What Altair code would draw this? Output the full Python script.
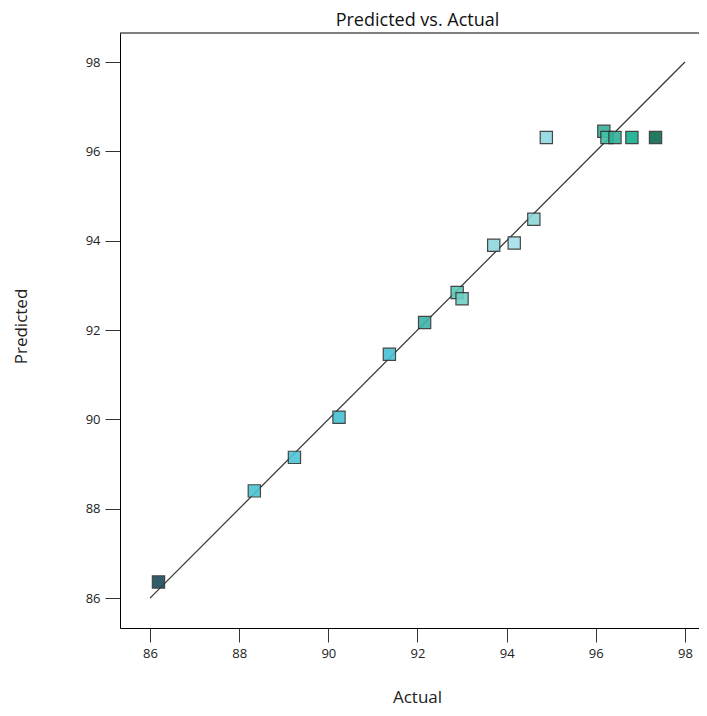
import altair as alt
import pandas as pd

actual = [86.19, 88.34, 89.24, 90.24, 91.37, 92.16, 92.89, 93.00, 93.71, 94.17,
          94.61, 94.89, 96.18, 96.25, 96.43, 96.81, 97.34]
predicted = [86.36, 88.40, 89.15, 90.05, 91.46, 92.17, 92.84, 92.70, 93.90, 93.95,
             94.48, 96.31, 96.45, 96.31, 96.31, 96.31, 96.31]
colors = ["#1d4b5c", "#4cc4d0", "#4ec6d6", "#45c0d4", "#48c2d4", "#3fb3a8",
          "#5ccab8", "#6fd0c4", "#8fd8dc", "#a6dfe8", "#8ed8d8", "#90d9e0",
          "#38b09a", "#40c0a8", "#30b098", "#12b08c", "#0e6b52"]

line_x = [86, 98]
line_y = [86, 98]

FONT = "Open Sans"
W = 579
XDOM = [85.327, 85.327 + W / 44.58]
YDOM = [85.33, 98.65]

pts = pd.DataFrame({"Actual": actual, "Predicted": predicted, "color": colors})
ln = pd.DataFrame({"Actual": line_x, "Predicted": line_y})

xenc = alt.X("Actual:Q", scale=alt.Scale(domain=XDOM, nice=False, zero=False),
             axis=alt.Axis(values=[86, 88, 90, 92, 94, 96, 98], title="Actual",
                           tickSize=14, labelPadding=5, grid=False,
                           domainColor="#000000", tickColor="#333333",
                           labelColor="#222222", labelFontSize=13, labelFont=FONT,
                           titleFont=FONT, titleFontSize=17, titleFontWeight="normal",
                           titleColor="#222222", titleX=297, titleY=69,
                           titleBaseline="middle", titleAlign="center"))
yenc = alt.Y("Predicted:Q", scale=alt.Scale(domain=YDOM, nice=False, zero=False),
             axis=alt.Axis(values=[86, 88, 90, 92, 94, 96, 98], title="Predicted",
                           tickSize=15, labelPadding=5, grid=False,
                           domainColor="#000000", tickColor="#333333",
                           labelColor="#222222", labelFontSize=13, labelFont=FONT,
                           titleFont=FONT, titleFontSize=17, titleFontWeight="normal",
                           titleColor="#222222", titleX=-99, titleY=293,
                           titleAngle=-90, titleBaseline="middle", titleAlign="center"))

line = alt.Chart(ln).mark_line(color="#333333", strokeWidth=1.2).encode(x=xenc, y=yenc)

points = alt.Chart(pts).mark_square(size=150, opacity=0.9, strokeWidth=1.2,
                                    stroke="#333333").encode(
    x=xenc, y=yenc, fill=alt.Fill("color:N", scale=None))

top = alt.Chart(pd.DataFrame({"a": [0]})).mark_rule(color="#000000", strokeWidth=1).encode(
    x=alt.value(0), x2=alt.value(W), y=alt.value(0))

chart = alt.layer(line, points, top).properties(
    width=W, height=595,
    title=alt.TitleParams("Predicted vs. Actual", font=FONT, fontSize=18,
                          fontWeight="normal", color="#111111", anchor="middle",
                          dx=8, offset=3),
    autosize=alt.AutoSizeParams(type="none"),
    padding={"left": 112, "top": 25, "right": 0, "bottom": 79},
).configure_view(stroke=None)

chart.save("out.html", embed_options={"renderer": "svg", "actions": False})
